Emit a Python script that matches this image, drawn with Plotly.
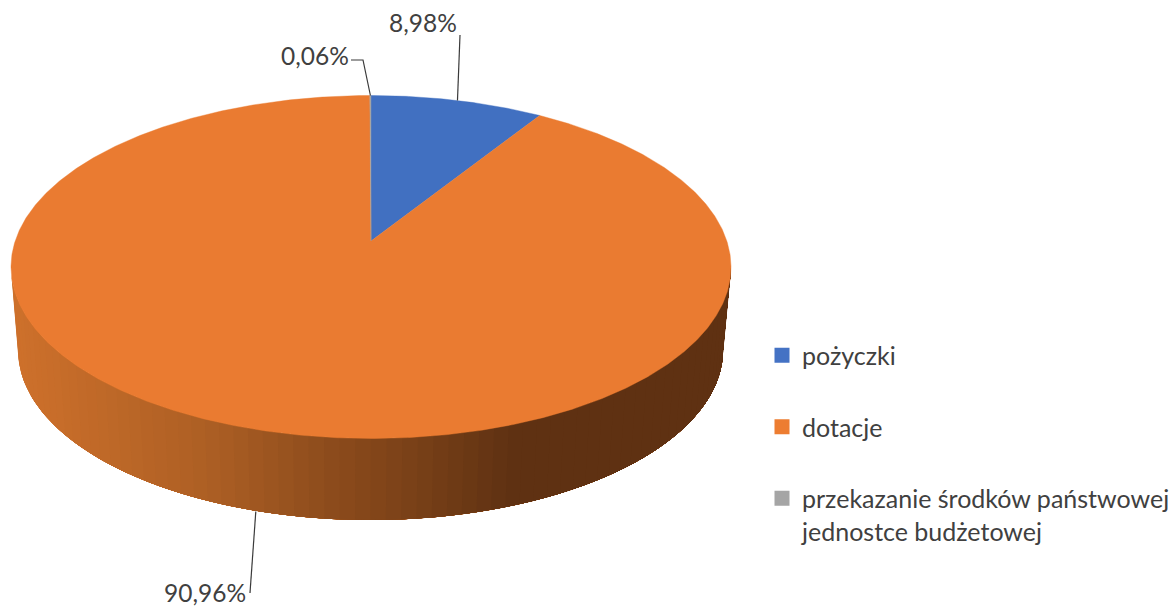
import numpy as np
import plotly.graph_objects as go

categories = ["pożyczki", "dotacje", "przekazanie środków państwowej<br>jednostce budżetowej"]
values = [8.98, 90.96, 0.06]
value_labels = ["8,98%", "90,96%", "0,06%"]
top_colors = ["#4170c1", "#ea7b31", "#a5a5a5"]
legend_colors = ["#4472c4", "#ed7d31", "#a5a5a5"]
side_stops_x = [18, 200, 333, 383, 505]
side_stops_rgb = [(205, 112, 43), (173, 95, 36), (138, 74, 27), (127, 68, 25), (95, 49, 18)]

FONT = "Lato"
FIG_W, FIG_H = 1190, 607  # a little wider than the window, so the legend does not push the plot area
CX, CY, RX, RY = 371.0, 267.0, 360.0, 171.5
BCX, BCY, BRX, BRY = 370.5, 350.0, 352.5, 170.0
APEX_OFFSET = 26.0
K = 52.0 / 343.0
A = RX * np.sqrt(1 - K ** 2)
DEPTH = 82.0


def project(frac):
    """Fraction of the pie clockwise from 12 o'clock -> position on the tilted top face."""
    th = 2 * np.pi * np.asarray(frac, dtype=float)
    u, v = np.sin(th), np.cos(th)
    s = 1 + K * v
    return CX + A * u / s, CY - (RY * v + APEX_OFFSET) / s


fig = go.Figure()

# side wall: nested bands painted left to right so that no seams show
phis = np.linspace(np.pi, 2 * np.pi, 73)
for p0 in phis[:-1]:
    ph = np.linspace(p0, 2 * np.pi, 120)
    xt, yt = CX + RX * np.cos(ph), CY - RY * np.sin(ph)
    xb, yb = BCX + BRX * np.cos(ph[::-1]), BCY - BRY * np.sin(ph[::-1])
    xm = (CX + RX * np.cos(p0) + BCX + BRX * np.cos(p0)) / 2
    rgb = [int(round(np.interp(xm, side_stops_x, [c[i] for c in side_stops_rgb]))) for i in range(3)]
    col = f"rgb({rgb[0]},{rgb[1]},{rgb[2]})"
    fig.add_trace(go.Scatter(x=np.r_[xt, xb], y=np.r_[yt, yb], mode="lines", fill="toself",
                             fillcolor=col, line=dict(width=0),
                             hoverinfo="skip", showlegend=False))

# top face slices
fractions = np.array(values) / sum(values)
starts = np.r_[0, np.cumsum(fractions)[:-1]]
mids = starts + fractions / 2
for i, (name, f0, f) in enumerate(zip(categories, starts, fractions)):
    arc = np.linspace(f0, f0 + f, max(4, int(f * 900)))
    ax, ay = project(arc)
    cx0, cy0 = CX, CY - APEX_OFFSET
    fig.add_trace(go.Scatter(x=np.r_[cx0, ax, cx0], y=np.r_[cy0, ay, cy0], mode="lines", fill="toself",
                             fillcolor=top_colors[i], line=dict(color=top_colors[i], width=0.4),
                             legendgroup=str(i), showlegend=False, name=name.replace("<br>", " "),
                             hovertemplate="%{fullData.name}<extra></extra>"))

# legend swatches
for i, name in enumerate(categories):
    fig.add_trace(go.Scatter(x=[None], y=[None], mode="markers", name=name, legendgroup=str(i),
                             marker=dict(symbol="square", size=15, color=legend_colors[i])))

# leader lines and data labels, in slice order
mx, my = project(mids)
anchors_y = [my[0], my[1] + DEPTH, my[2]]
leaders = [
    ([mx[0], 460], [anchors_y[0], 35]),
    ([mx[1], 250], [anchors_y[1], 593]),
    ([mx[2], 363, 351], [anchors_y[2], 60, 60]),
]
label_pos = [(423, 22), (205, 592), (315, 55)]
for (lx, ly) in leaders:
    fig.add_trace(go.Scatter(x=lx, y=ly, mode="lines", line=dict(color="#3a3a3a", width=1.2),
                             hoverinfo="skip", showlegend=False))
for text, (px, py) in zip(value_labels, label_pos):
    fig.add_annotation(x=px, y=py, text=text, showarrow=False, xref="x", yref="y",
                       font=dict(family=FONT, size=24.5, color="#404040"))

fig.update_layout(
    width=FIG_W, height=FIG_H, margin=dict(l=0, r=0, t=0, b=0),
    paper_bgcolor="white", plot_bgcolor="white",
    font=dict(family=FONT, size=25, color="#404040"),
    xaxis=dict(range=[0, FIG_W], visible=False, fixedrange=True),
    yaxis=dict(range=[FIG_H, 0], visible=False, fixedrange=True),
    legend=dict(x=762 / FIG_W, y=1 - 332.5 / FIG_H, xanchor="left", yanchor="top", traceorder="grouped",
                tracegroupgap=36, itemsizing="trace", valign="top", bgcolor="rgba(0,0,0,0)",
                font=dict(family=FONT, size=25, color="#404040")),
)
fig.write_html("out.html", config={"displayModeBar": False},
               post_script="document.body.style.margin='0';document.documentElement.style.overflow='hidden';")
